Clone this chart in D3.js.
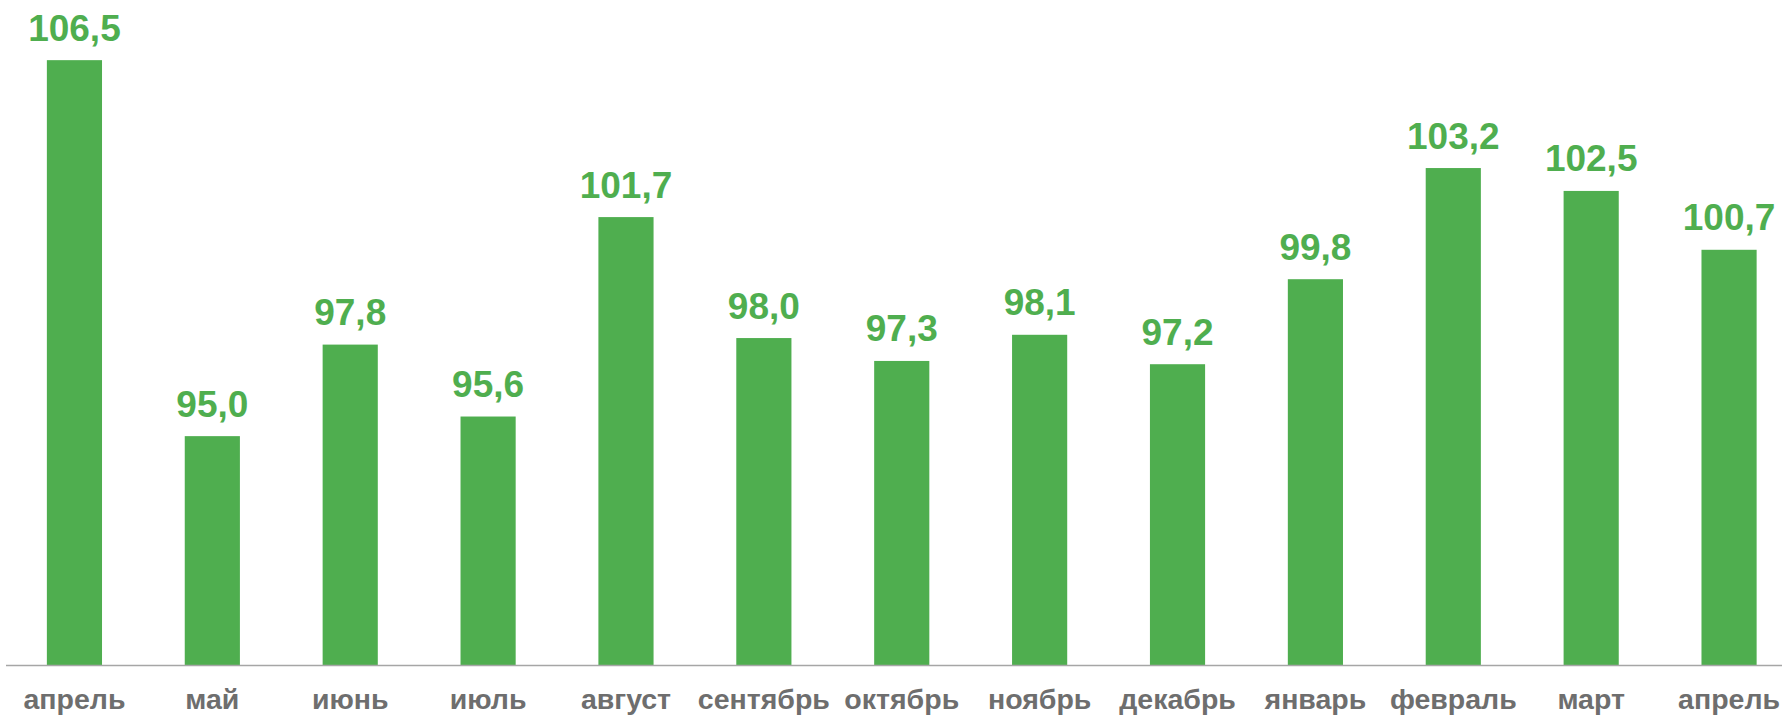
<!DOCTYPE html>
<html>
<head>
<meta charset="utf-8">
<script src="https://cdn.jsdelivr.net/npm/d3@7"></script>
<style>
  body { margin: 0; background: #fff; overflow: hidden; }
  text { font-family: "Liberation Sans", Arial, sans-serif; font-weight: bold; }
</style>
</head>
<body>
<script>
var width  = 1782,
    height = 717;

var months = ["апрель", "май", "июнь", "июль", "август", "сентябрь", "октябрь",
              "ноябрь", "декабрь", "январь", "февраль", "март", "апрель"];
var values = [106.5, 95.0, 97.8, 95.6, 101.7, 98.0, 97.3, 98.1, 97.2, 99.8, 103.2, 102.5, 100.7];

var green = "#4fae4f",
    grey  = "#6e6e6e";

var svg = d3.select("body").append("svg")
    .attr("width", width)
    .attr("height", height);

// band index used as key so the two "апрель" don't collide
var x = d3.scaleBand()
    .domain(d3.range(months.length))
    .range([5.5, 1798])
    .paddingInner(0.6)
    .paddingOuter(0.3);

var y = d3.scaleLinear()
    .domain([88, 108.34])
    .range([665, 0]);

svg.selectAll("rect.bar")
  .data(values)
  .enter().append("rect")
    .attr("class", "bar")
    .attr("x", function(d, i) { return x(i); })
    .attr("width", x.bandwidth())
    .attr("y", function(d) { return y(d); })
    .attr("height", function(d) { return y(88) - y(d); })
    .attr("fill", green);

// value labels
svg.selectAll("text.val")
  .data(values)
  .enter().append("text")
    .attr("class", "val")
    .attr("x", function(d, i) { return x(i) + x.bandwidth() / 2; })
    .attr("y", function(d) { return y(d) - 19.5; })
    .attr("text-anchor", "middle")
    .attr("font-size", 37)
    .attr("fill", green)
    .text(function(d) { return d.toFixed(1).replace(".", ","); });

// x axis
var xAxis = d3.axisBottom(x)
    .tickSize(0)
    .tickPadding(24)
    .tickFormat(function(i) { return months[i]; });

var gx = svg.append("g")
    .attr("transform", "translate(0," + 665 + ")")
    .call(xAxis);

gx.select(".domain")
    .attr("stroke", "#a6a6a6")
    .attr("stroke-width", 1.5);

gx.selectAll("text")
    .attr("font-size", 28.5)
    .attr("font-family", "Liberation Sans, Arial, sans-serif")
    .attr("font-weight", "bold")
    .attr("fill", grey);
</script>
</body>
</html>
